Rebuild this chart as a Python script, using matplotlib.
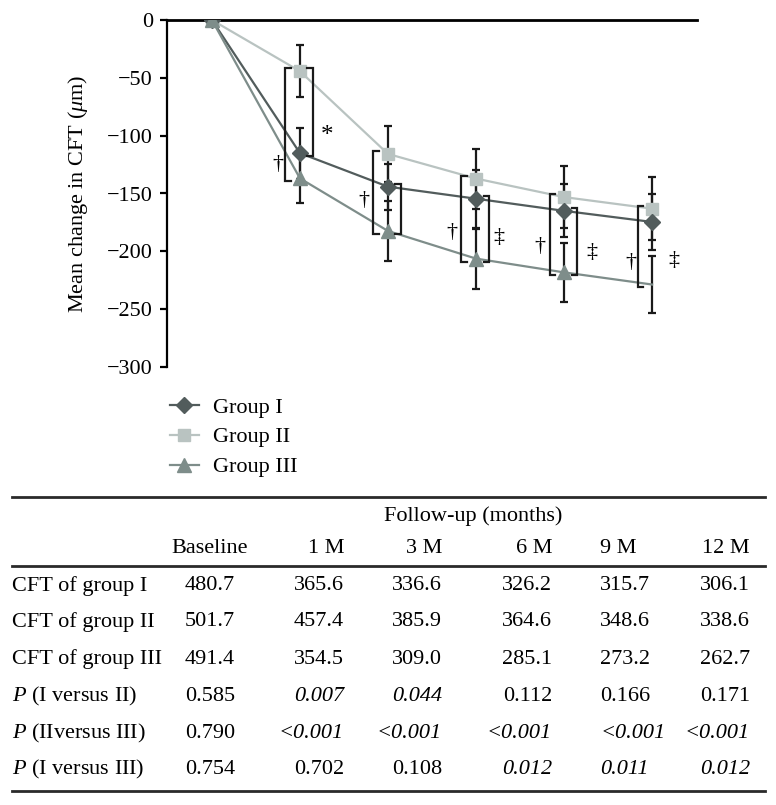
import matplotlib
matplotlib.use("Agg")
import matplotlib.pyplot as plt
from matplotlib.lines import Line2D

plt.rcParams['font.family'] = ['Liberation Serif', 'DejaVu Serif']
plt.rcParams['mathtext.fontset'] = 'custom'
plt.rcParams['mathtext.rm'] = 'Liberation Serif'
plt.rcParams['mathtext.it'] = 'Liberation Serif:italic'

FS = 16

# data
months = ["Baseline", "1 M", "3 M", "6 M", "9 M", "12 M"]
change_g1 = [0, -115.1, -144.1, -154.5, -165.0, -174.6]
change_g2 = [0, -44.3, -115.8, -137.1, -153.1, -163.1]
change_g3 = [0, -136.9, -182.4, -206.3, -218.2, -228.7]
err_g1 = [0, 22, 20, 25, 23, 24]
err_g2 = [0, 22.5, 24, 26, 27, 27]
err_g3 = [0, 21.5, 26, 26, 25.5, 25]

# brackets: (time index, from group, to group, side)
brackets = [(1, 2, 3, "L"), (1, 2, 1, "R"),
            (2, 2, 3, "L"), (2, 1, 3, "R"),
            (3, 2, 3, "L"), (3, 1, 3, "R"),
            (4, 2, 3, "L"), (4, 1, 3, "R"),
            (5, 2, 3, "L")]
# significance marks: (time index, x offset, y value, symbol)
marks = [(1, -0.25, -125, "†"), (1, 0.31, -100, "*"),
         (2, -0.27, -156, "†"),
         (3, -0.27, -184, "†"), (3, 0.26, -188, "‡"),
         (4, -0.28, -196, "†"), (4, 0.32, -201, "‡"),
         (5, -0.24, -210, "†"), (5, 0.25, -208, "‡")]

# table
table_header = ["Baseline", "1 M", "3 M", "6 M", "9 M", "12 M"]
table_rows = [
    (r"CFT of group I", ["480.7", "365.6", "336.6", "326.2", "315.7", "306.1"], []),
    (r"CFT of group II", ["501.7", "457.4", "385.9", "364.6", "348.6", "338.6"], []),
    (r"CFT of group III", ["491.4", "354.5", "309.0", "285.1", "273.2", "262.7"], []),
    (r"$\mathit{P}$ (I versus II)", ["0.585", "0.007", "0.044", "0.112", "0.166", "0.171"], [1, 2]),
    (r"$\mathit{P}$ (IIversus III)", ["0.790", "<0.001", "<0.001", "<0.001", "<0.001", "<0.001"], [1, 2, 3, 4, 5]),
    (r"$\mathit{P}$ (I versus III)", ["0.754", "0.702", "0.108", "0.012", "0.011", "0.012"], [3, 4, 5]),
]

W, H = 776, 805
fig = plt.figure(figsize=(W / 100, H / 100), dpi=100)


def fx(px):
    return px / W


def fy(px):
    return 1 - px / H


ax = fig.add_axes([fx(167), fy(367), fx(697) - fx(167), fy(20) - fy(367)])

c1, c2, c3 = "#525c5c", "#b9c3c1", "#7e8d8a"
x = list(range(len(months)))
groups = [(change_g2, err_g2, c2, "s", 9, "Group II"),
          (change_g1, err_g1, c1, "D", 8.5, "Group I"),
          (change_g3, err_g3, c3, "^", 10, "Group III")]
handles = {}
for vals, errs, col, mk, ms, lab in groups:
    ax.errorbar(x[1:], vals[1:], yerr=errs[1:], fmt="none", ecolor="#1a1a1a",
                elinewidth=1.6, capsize=3.2, capthick=1.6, zorder=2)
for vals, errs, col, mk, ms, lab in groups:
    every = [0, 1, 2, 3, 4] if lab == "Group III" else None
    ln, = ax.plot(x, vals, color=col, lw=1.6, marker=mk, ms=ms, mec=col,
                  mfc=col, markevery=every, label=lab, zorder=3)
    handles[lab] = ln

series = {1: change_g1, 2: change_g2, 3: change_g3}
tick = 0.065
for t, ga, gb, side in brackets:
    ya, yb = series[ga][t], series[gb][t]
    top, bot = max(ya, yb) + 2.5, min(ya, yb) - 2.5
    if side == "L":
        xb = t - 0.165
        ax.plot([xb + tick, xb, xb, xb + tick], [top, top, bot, bot],
                color="#1a1a1a", lw=1.6, zorder=4, solid_joinstyle="miter")
    else:
        xb = t + 0.15
        ax.plot([xb - tick, xb, xb, xb - tick], [top, top, bot, bot],
                color="#1a1a1a", lw=1.6, zorder=4, solid_joinstyle="miter")

for t, dx, yv, sym in marks:
    ax.text(t + dx, yv, sym, ha="center", va="center",
            fontsize=FS + 2 if sym == "*" else FS, zorder=5)

ax.set_xlim(-0.51, 5.51)
ax.set_ylim(-300, 0)
ax.set_yticks(range(-300, 1, 50))
ax.set_yticklabels([("\u2212%d" % -v) if v < 0 else "0" for v in range(-300, 1, 50)])
ax.set_xticks([])
ax.spines["right"].set_visible(False)
ax.spines["bottom"].set_visible(False)
ax.spines["top"].set_linewidth(2)
ax.spines["left"].set_linewidth(1.6)
ax.tick_params(axis="y", length=5, width=1.6, pad=5, labelsize=FS)
ax.set_ylabel(r"Mean change in CFT ($\mathit{\mu}$m)", fontsize=FS)
ax.yaxis.set_label_coords((90 - 167) / (697 - 167), 0.5)
ax.patch.set_visible(False)

fig.legend([handles["Group I"], handles["Group II"], handles["Group III"]],
           ["Group I", "Group II", "Group III"], loc="upper left",
           bbox_to_anchor=(fx(170), fy(397)), frameon=False, fontsize=FS,
           handlelength=1.3, handletextpad=0.65, labelspacing=0.42,
           borderpad=0, borderaxespad=0)

# table
for yp in (497, 566, 791):
    fig.add_artist(Line2D([fx(12), fx(765)], [fy(yp), fy(yp)], color="#2a2a2a",
                          lw=2, transform=fig.transFigure))

cols = [(210, "center"), (344, "right"), (442, "right"), (552, "right"),
        (600, "left"), (750, "right")]
fig.text(fx(473), fy(516), "Follow-up (months)", ha="center", va="center", fontsize=FS)
for (cx, ha), h in zip(cols, table_header):
    fig.text(fx(cx), fy(548), h, ha=ha, va="center", fontsize=FS)

row_y = [586, 622, 659, 696, 733, 769]
for yp, (lab, vals, ital) in zip(row_y, table_rows):
    fig.text(fx(12), fy(yp), lab, ha="left", va="center", fontsize=FS)
    for i, ((cx, ha), v) in enumerate(zip(cols, vals)):
        fig.text(fx(cx), fy(yp), v, ha=ha, va="center", fontsize=FS,
                 style="italic" if i in ital else "normal")

fig.savefig("out.png", dpi=100)
